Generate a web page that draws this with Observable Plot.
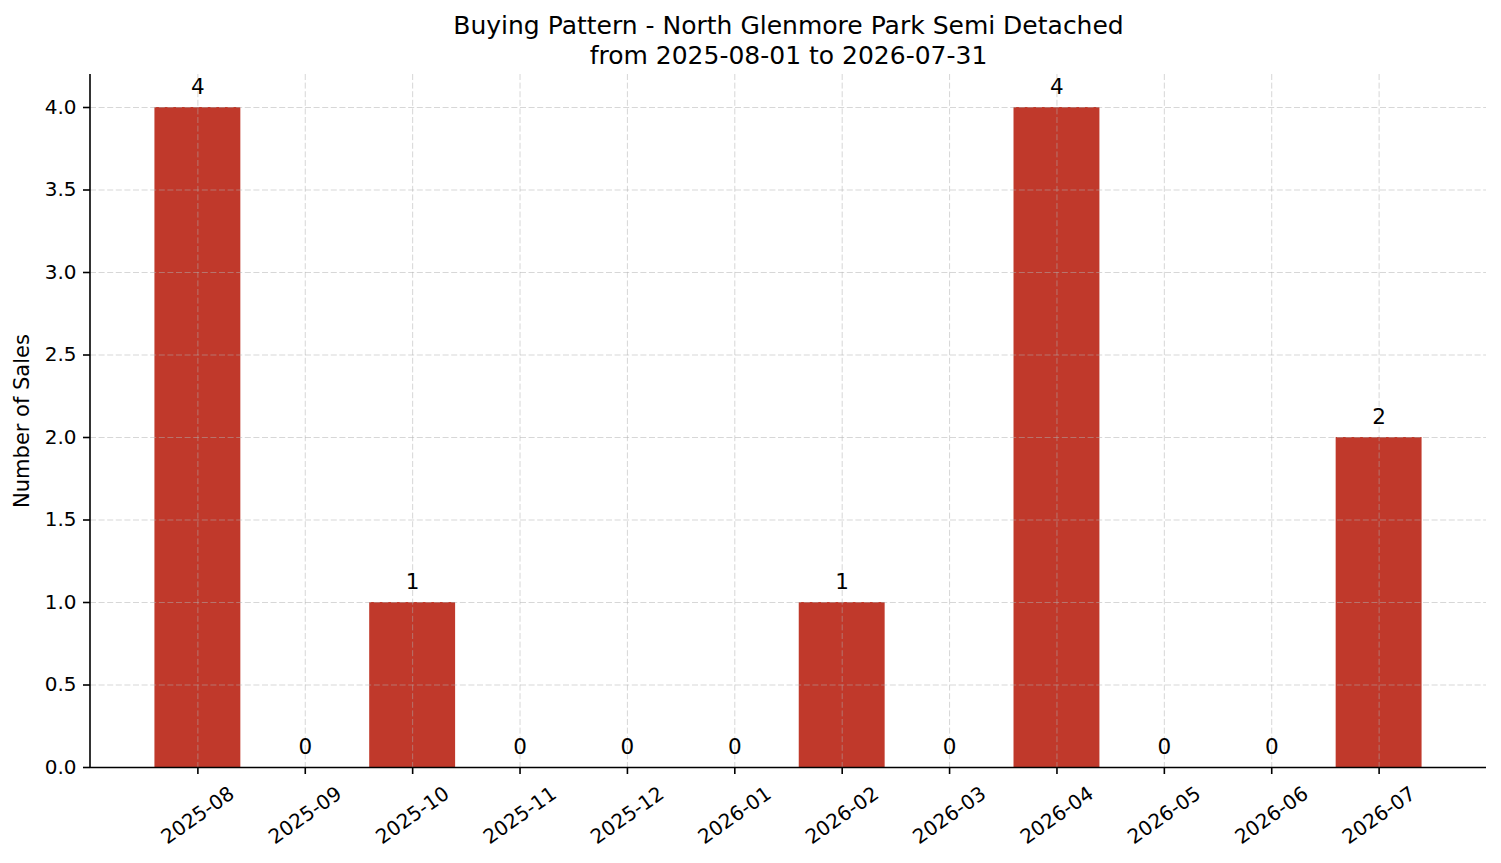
<!DOCTYPE html>
<html>
<head>
<meta charset="utf-8">
<script src="https://cdn.jsdelivr.net/npm/d3@7"></script>
<script src="https://cdn.jsdelivr.net/npm/@observablehq/plot@0.6"></script>
<style>
  html, body { margin: 0; padding: 0; background: white; }
</style>
</head>
<body>
<div id="chart"></div>
<script>
const titleLines = ["Buying Pattern - North Glenmore Park Semi Detached", "from 2025-08-01 to 2026-07-31"];
const yLabel = "Number of Sales";
const months = ["2025-08","2025-09","2025-10","2025-11","2025-12","2026-01","2026-02","2026-03","2026-04","2026-05","2026-06","2026-07"];
const sales = [4, 0, 1, 0, 0, 0, 1, 0, 4, 0, 0, 2];
const yTicks = [0, 0.5, 1, 1.5, 2, 2.5, 3, 3.5, 4];
const yDomain = [0, 4.2];

const barColor = "#c0392b";
const data = months.map((m, i) => ({month: m, sales: sales[i]}));
const gridStyle = {stroke: "#b0b0b0", strokeOpacity: 0.5, strokeWidth: 1, strokeDasharray: "6,2.6"};
const margin = {left: 90, right: 15, top: 74, bottom: 96};

const chart = Plot.plot({
  width: 1501,
  height: 863,
  marginLeft: margin.left,
  marginRight: margin.right,
  marginTop: margin.top,
  marginBottom: margin.bottom,
  style: {fontFamily: "DejaVu Sans", fontSize: "20px", color: "black", background: "white"},
  x: {domain: months, paddingInner: 0.2, paddingOuter: 0.6, round: false},
  y: {domain: yDomain},
  marks: [
    Plot.barY(data, {x: "month", y: "sales", fill: barColor}),
    Plot.gridX({...gridStyle}),
    Plot.gridY({ticks: yTicks, ...gridStyle}),
    Plot.axisX({tickSize: 7, tickFormat: () => "", label: null, strokeWidth: 1.6}),
    Plot.axisY({ticks: yTicks, tickFormat: d3.format(".1f"), tickSize: 7, tickPadding: 7, label: null, strokeWidth: 1.6, fontSize: 20}),
    Plot.ruleY([0], {stroke: "black", strokeWidth: 1.6}),
    Plot.text(data, {x: "month", y: "sales", text: d => String(d.sales), lineAnchor: "bottom", dy: -13.5, fontSize: 21.5}),
    Plot.text(months, {x: d => d, frameAnchor: "bottom", dy: 48, rotate: -35, textAnchor: "middle", lineAnchor: "middle", fontSize: 20}),
    Plot.text([yLabel], {frameAnchor: "left", dx: -68, rotate: -90, textAnchor: "middle", lineAnchor: "middle", fontSize: 21}),
    Plot.text([titleLines.join("\n")], {frameAnchor: "top", dy: -11, lineAnchor: "bottom", lineHeight: 1.17, fontSize: 25})
  ]
});

// left spine
const yr = chart.scale("y").range;
d3.select(chart).append("line")
  .attr("x1", margin.left).attr("x2", margin.left)
  .attr("y1", yr[0]).attr("y2", yr[1])
  .attr("stroke", "black").attr("stroke-width", 1.6);

document.getElementById("chart").appendChild(chart);
</script>
</body>
</html>
